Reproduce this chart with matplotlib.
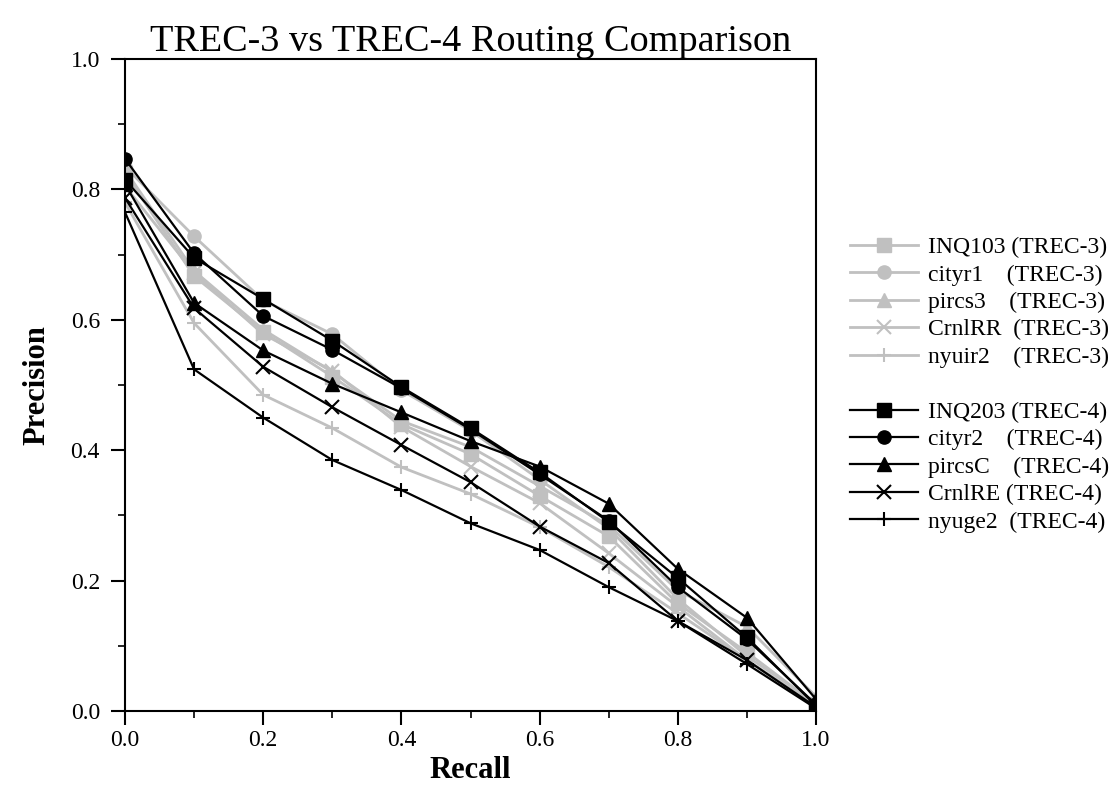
import numpy as np
import matplotlib
matplotlib.use("Agg")
import matplotlib.pyplot as plt
from matplotlib.lines import Line2D
from matplotlib.ticker import MultipleLocator

plt.rcParams['font.family'] = ['Liberation Serif', 'DejaVu Serif']

recall = [0.0, 0.1, 0.2, 0.3, 0.4, 0.5, 0.6, 0.7, 0.8, 0.9, 1.0]

# TREC-3 runs (gray)
inq103 = [0.825, 0.667, 0.581, 0.513, 0.440, 0.394, 0.330, 0.268, 0.165, 0.090, 0.010]
cityr1 = [0.835, 0.728, 0.630, 0.578, 0.492, 0.430, 0.355, 0.280, 0.172, 0.084, 0.012]
pircs3 = [0.830, 0.675, 0.585, 0.520, 0.445, 0.405, 0.345, 0.285, 0.185, 0.129, 0.022]
crnlrr = [0.805, 0.672, 0.578, 0.522, 0.436, 0.375, 0.319, 0.242, 0.160, 0.078, 0.008]
nyuir2 = [0.780, 0.595, 0.485, 0.434, 0.374, 0.333, 0.282, 0.221, 0.150, 0.078, 0.006]

# TREC-4 runs (black)
inq203 = [0.815, 0.695, 0.632, 0.568, 0.497, 0.434, 0.366, 0.290, 0.204, 0.113, 0.008]
cityr2 = [0.847, 0.702, 0.606, 0.554, 0.495, 0.432, 0.363, 0.292, 0.190, 0.110, 0.010]
pircsc = [0.808, 0.626, 0.553, 0.502, 0.458, 0.414, 0.375, 0.318, 0.218, 0.143, 0.018]
crnlre = [0.787, 0.618, 0.528, 0.466, 0.408, 0.351, 0.283, 0.227, 0.138, 0.078, 0.006]
nyuge2 = [0.765, 0.524, 0.450, 0.385, 0.339, 0.288, 0.247, 0.190, 0.138, 0.072, 0.004]

trec3 = [("INQ103 (TREC-3)", inq103, "s"),
         ("cityr1    (TREC-3)", cityr1, "o"),
         ("pircs3    (TREC-3)", pircs3, "^"),
         ("CrnlRR  (TREC-3)", crnlrr, "x"),
         ("nyuir2    (TREC-3)", nyuir2, "+")]
trec4 = [("INQ203 (TREC-4)", inq203, "s"),
         ("cityr2    (TREC-4)", cityr2, "o"),
         ("pircsC    (TREC-4)", pircsc, "^"),
         ("CrnlRE (TREC-4)", crnlre, "x"),
         ("nyuge2  (TREC-4)", nyuge2, "+")]

gray = "#c0c0c0"

fig = plt.figure(figsize=(11.18, 7.86), dpi=100)
ax = fig.add_axes([0.1118, 0.0954, 0.6181, 0.8295])

handles = []
for label, vals, m in trec3:
    h, = ax.plot(recall, vals, color=gray, lw=2, marker=m, markersize=9.5,
                 markeredgewidth=1.5 if m in "x+" else 1, label=label)
    handles.append(h)
handles.append(Line2D([], [], color="none", label=" "))
for label, vals, m in trec4:
    h, = ax.plot(recall, vals, color="black", lw=1.6, marker=m, markersize=9.5,
                 markeredgewidth=1.5 if m in "x+" else 1, label=label)
    handles.append(h)

ax.set_xlim(0, 1)
ax.set_ylim(0, 1)
ax.xaxis.set_major_locator(MultipleLocator(0.2))
ax.yaxis.set_major_locator(MultipleLocator(0.2))
ax.xaxis.set_minor_locator(MultipleLocator(0.1))
ax.yaxis.set_minor_locator(MultipleLocator(0.1))
ax.xaxis.set_major_formatter(plt.FormatStrFormatter("%.1f"))
ax.yaxis.set_major_formatter(plt.FormatStrFormatter("%.1f"))
ax.tick_params(which="major", direction="out", length=10, width=1.5, labelsize=17)
ax.tick_params(axis="y", which="major", pad=8)
ax.tick_params(which="minor", direction="out", length=5, width=1.2)
for s in ax.spines.values():
    s.set_linewidth(1.5)

ax.set_title("TREC-3 vs TREC-4 Routing Comparison", fontsize=27.5, pad=3)
ax.set_xlabel("Recall", fontsize=22, fontweight="bold", labelpad=4)
ax.set_ylabel("Precision", fontsize=22, fontweight="bold", labelpad=14)

leg = ax.legend(handles=handles, loc="upper left", bbox_to_anchor=(1.035, 0.742),
                frameon=False, fontsize=17, handlelength=2.9, handletextpad=0.4,
                labelspacing=0.25, borderaxespad=0)

plt.savefig("out.png", dpi=100)
